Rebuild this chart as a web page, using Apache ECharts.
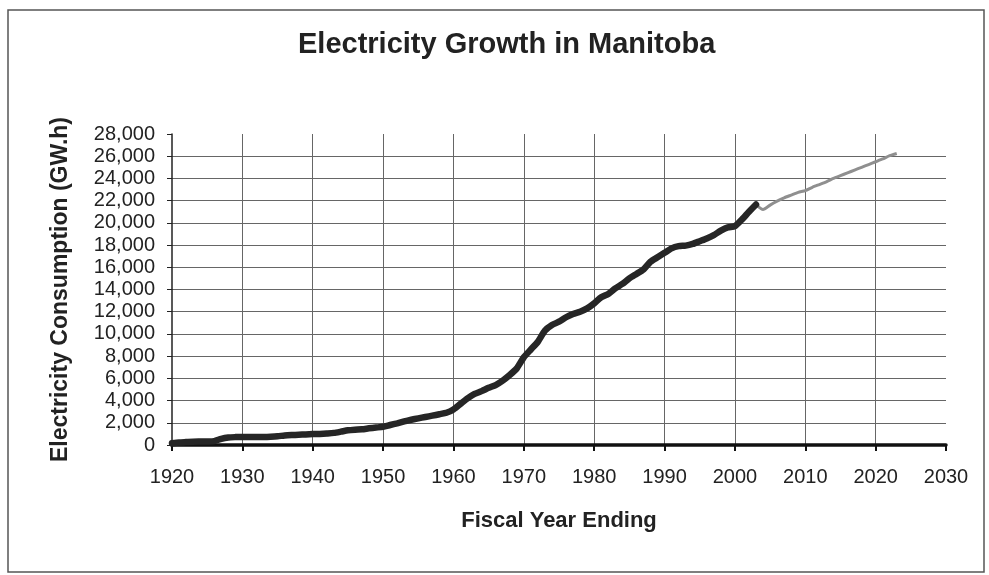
<!DOCTYPE html>
<html>
<head>
<meta charset="utf-8">
<title>Electricity Growth in Manitoba</title>
<script src="https://cdn.jsdelivr.net/npm/echarts@6/dist/echarts.min.js"></script>
<style>
  html, body { margin: 0; padding: 0; background: #fff; }
  #chart { width: 989px; height: 575px; }
</style>
</head>
<body>
<div id="chart"></div>
<script>
// Recorded annual consumption (GW.h), fiscal years 1920-2003
const actualYears = [
  1920, 1921, 1922, 1923, 1924, 1925, 1926, 1927, 1928, 1929,
  1930, 1931, 1932, 1933, 1934, 1935, 1936, 1937, 1938, 1939,
  1940, 1941, 1942, 1943, 1944, 1945, 1946, 1947, 1948, 1949,
  1950, 1951, 1952, 1953, 1954, 1955, 1956, 1957, 1958, 1959,
  1960, 1961, 1962, 1963, 1964, 1965, 1966, 1967, 1968, 1969,
  1970, 1971, 1972, 1973, 1974, 1975, 1976, 1977, 1978, 1979,
  1980, 1981, 1982, 1983, 1984, 1985, 1986, 1987, 1988, 1989,
  1990, 1991, 1992, 1993, 1994, 1995, 1996, 1997, 1998, 1999,
  2000, 2001, 2002, 2003
];
const actualValues = [
  150, 220, 260, 300, 310, 320, 350, 560, 680, 710,
  720, 720, 710, 720, 740, 780, 860, 900, 920, 950,
  980, 1000, 1040, 1090, 1200, 1320, 1380, 1420, 1500, 1570,
  1640, 1800, 1950, 2120, 2270, 2400, 2520, 2640, 2770, 2900,
  3200, 3700, 4200, 4600, 4850, 5150, 5400, 5800, 6300, 6900,
  7900, 8600, 9300, 10300, 10800, 11100, 11500, 11800, 12000, 12300,
  12750, 13300, 13600, 14100, 14500, 15000, 15400, 15800, 16500, 16900,
  17300, 17700, 17900, 17950, 18100, 18350, 18600, 18900, 19300, 19600,
  19700, 20300, 21000, 21650
];

// Projected consumption (GW.h), 2003-2023
const forecastYears = [
  2003, 2004, 2005, 2006, 2007, 2008, 2009, 2010, 2011, 2012,
  2013, 2014, 2015, 2016, 2017, 2018, 2019, 2020, 2021, 2022, 2023
];
const forecastValues = [
  21650, 21200, 21600, 21950, 22250, 22500, 22750, 22900, 23200, 23450,
  23700, 24000, 24250, 24500, 24750, 25000, 25250, 25500, 25750, 26050, 26250
];

// Axis ranges
const yearMin = 1920, yearMax = 2030, yearStep = 10;
const gwhMin = 0, gwhMax = 28000, gwhStep = 2000;

const FONT = '"Liberation Sans", Arial, sans-serif';

const pairs = (xs, ys) => xs.map((x, i) => [x, ys[i]]);

const chart = echarts.init(document.getElementById('chart'), null, { renderer: 'canvas' });

chart.setOption({
  backgroundColor: '#ffffff',
  animation: false,
  title: {
    text: 'Electricity Growth in Manitoba',
    left: 293,
    top: 25,
    textStyle: { fontFamily: FONT, fontSize: 29, fontWeight: 'bold', color: '#222' }
  },
  graphic: [{
    type: 'rect',
    shape: { x: 8, y: 10, width: 976, height: 562 },
    style: { fill: 'none', stroke: '#555', lineWidth: 1.5 },
    silent: true,
    z: -1
  }],
  grid: { left: 172, right: 43, top: 134, bottom: 130, outerBoundsMode: 'none' },
  xAxis: {
    type: 'value',
    min: yearMin,
    max: yearMax,
    interval: yearStep,
    name: 'Fiscal Year Ending',
    nameLocation: 'middle',
    nameGap: 65,
    nameTextStyle: { fontFamily: FONT, fontSize: 22, fontWeight: 'bold', color: '#222' },
    axisLine: { show: true, onZero: false, lineStyle: { color: '#111', width: 3.5 } },
    axisTick: { show: true, inside: false, length: 6, lineStyle: { color: '#111', width: 2 } },
    axisLabel: {
      margin: 22,
      fontFamily: FONT, fontSize: 20, color: '#222',
      formatter: v => String(v)
    },
    splitLine: {
      show: true,
      showMinLine: false,
      showMaxLine: false,
      lineStyle: { color: '#666', width: 1 }
    }
  },
  yAxis: {
    type: 'value',
    min: gwhMin,
    max: gwhMax,
    interval: gwhStep,
    name: 'Electricity Consumption (GW.h)',
    nameLocation: 'middle',
    nameGap: 100,
    nameTextStyle: { fontFamily: FONT, fontSize: 23, fontWeight: 'bold', color: '#222' },
    axisLine: { show: true, lineStyle: { color: '#222', width: 1.5 } },
    axisTick: { show: true, inside: false, length: 5, lineStyle: { color: '#222', width: 1 } },
    axisLabel: {
      margin: 17,
      fontFamily: FONT, fontSize: 20, color: '#222',
      formatter: v => v.toLocaleString('en-US')
    },
    splitLine: {
      show: true,
      showMinLine: false,
      showMaxLine: false,
      lineStyle: { color: '#666', width: 1 }
    }
  },
  series: [
    {
      name: 'Forecast',
      type: 'line',
      data: pairs(forecastYears, forecastValues),
      showSymbol: false,
      smooth: 0.2,
      lineStyle: { color: '#8f8f8f', width: 3 },
      z: 3
    },
    {
      name: 'Actual',
      type: 'line',
      data: pairs(actualYears, actualValues),
      showSymbol: false,
      smooth: 0.2,
      lineStyle: { color: '#262626', width: 6.5, cap: 'round', join: 'round' },
      z: 4
    }
  ]
});
</script>
</body>
</html>
